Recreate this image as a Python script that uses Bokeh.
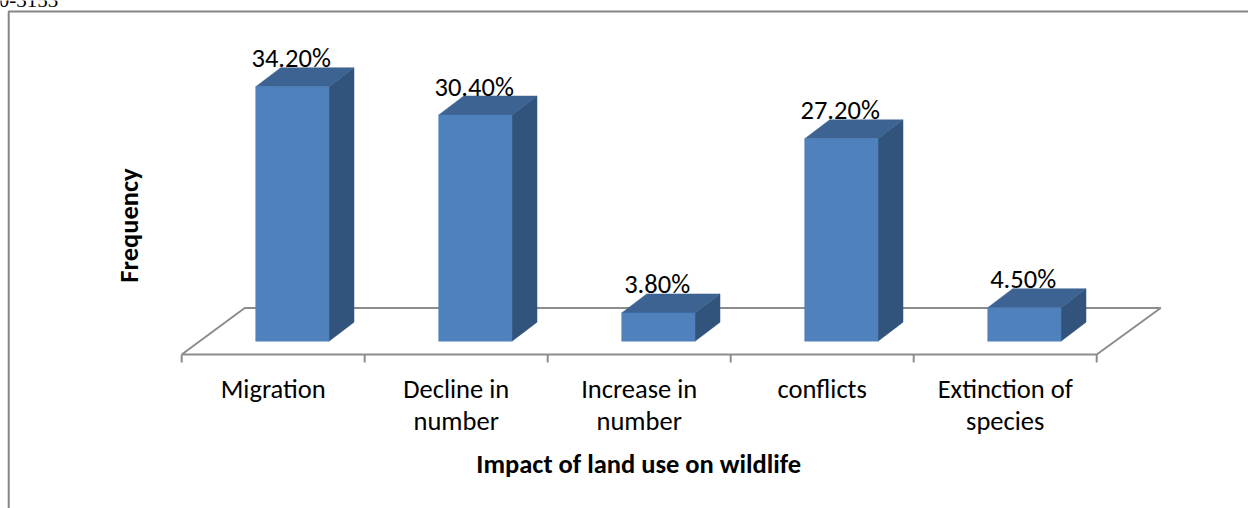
from bokeh.models import Range1d
from bokeh.plotting import figure
from bokeh.core.properties import value
from bokeh.embed import file_html
from bokeh.resources import INLINE
from math import pi

# Chart values
categories = ["Migration", "Decline in\nnumber", "Increase in\nnumber", "conflicts", "Extinction of\nspecies"]
shares = [34.2, 30.4, 3.8, 27.2, 4.5]
share_labels = ["34.20%", "30.40%", "3.80%", "27.20%", "4.50%"]
x_title = "Impact of land use on wildlife"
y_title = "Frequency"
page_header = "0-3153"

W, H = 1248, 508
ORIGIN_X, ORIGIN_Y = 182.0, 340.7     # pixel position of category 0, value 0
CAT_PX, VAL_PX = 183.0, 7.44          # pixels per category, pixels per percentage point

# Oblique projection of the 3-D columns, in data units
DEPTH_X = 25.0 / CAT_PX
DEPTH_Y = 19.0 / VAL_PX
BAR_START = 74.0 / CAT_PX
BAR_WIDTH = 73.3 / CAT_PX

FONT = value("Carlito, Lato")
GRID = "#8c8c8c"


def dx(px):
    return (px - ORIGIN_X) / CAT_PX


def dy(py):
    return (ORIGIN_Y - py) / VAL_PX


p = figure(
    width=W, height=H, output_backend="svg", toolbar_location=None,
    x_range=Range1d(dx(0.8), dx(W + 0.8)), y_range=Range1d(dy(H), dy(0)),
    min_border=0, outline_line_color=None, background_fill_color="white",
)
p.axis.visible = False
p.grid.visible = False

# Outer frame (open on the right and bottom)
p.line([dx(9), dx(9), dx(W + 2)], [dy(H), dy(11), dy(11)], line_color="#858585", line_width=2)
p.text([dx(-1)], [dy(-1)], text=[page_header], text_font=value("Liberation Serif"),
       text_font_size="21px", text_baseline="alphabetic", text_color="black")

# Floor of the 3-D plot
floor_y = dy(354)
back_y = dy(307.5)
n = len(categories)
p.line([0, n, n + 64 / CAT_PX, 63 / CAT_PX, 0],
       [floor_y, floor_y, back_y, back_y, floor_y], line_color=GRID, line_width=2)
p.segment(x0=list(range(n + 1)), y0=[floor_y] * (n + 1), x1=list(range(n + 1)),
          y1=[dy(362)] * (n + 1), line_color=GRID, line_width=2)

# Columns: front face, top face and side face
front_x, front_y, top_x, top_y, side_x, side_y = [], [], [], [], [], []
for i, v in enumerate(shares):
    l = i + BAR_START
    r = l + BAR_WIDTH
    front_x.append([l, r, r, l])
    front_y.append([0, 0, v, v])
    top_x.append([l, r, r + DEPTH_X, l + DEPTH_X])
    top_y.append([v, v, v + DEPTH_Y, v + DEPTH_Y])
    side_x.append([r, r + DEPTH_X, r + DEPTH_X, r])
    side_y.append([0, DEPTH_Y, v + DEPTH_Y, v])

p.patches(side_x, side_y, fill_color="#32547C", line_color="#32547C", line_width=0.5)
p.patches(top_x, top_y, fill_color="#3D6392", line_color="#3D6392", line_width=0.5)
p.patches(front_x, front_y, fill_color="#4F81BD", line_color="#4F81BD", line_width=0.5)

# Value labels sit just above the columns
label_x = [i + BAR_START + BAR_WIDTH / 2 - 1.2 / CAT_PX for i in range(n)]
label_y = [v + 28.5 / VAL_PX for v in shares]
p.text(label_x, label_y, text=share_labels, text_font=FONT, text_font_size="26.5px",
       text_align="center", text_baseline="alphabetic", text_color="black")

# Category labels
p.text([i + 0.5 for i in range(n)], [dy(372)] * n, text=categories, text_font=FONT,
       text_font_size="26.5px", text_align="center", text_baseline="top",
       text_line_height=1.02, text_color="black")

# Axis titles
p.text([dx(639)], [dy(463)], text=[x_title], text_font=FONT, text_font_size="26.5px",
       text_font_style="bold", text_align="center", text_baseline="middle", text_color="black")
p.text([dx(129)], [dy(225)], text=[y_title], text_font=FONT, text_font_size="26.5px",
       text_font_style="bold", text_align="center", text_baseline="middle",
       angle=pi / 2, text_color="black")

open("out.html", "w").write(file_html(p, INLINE))
